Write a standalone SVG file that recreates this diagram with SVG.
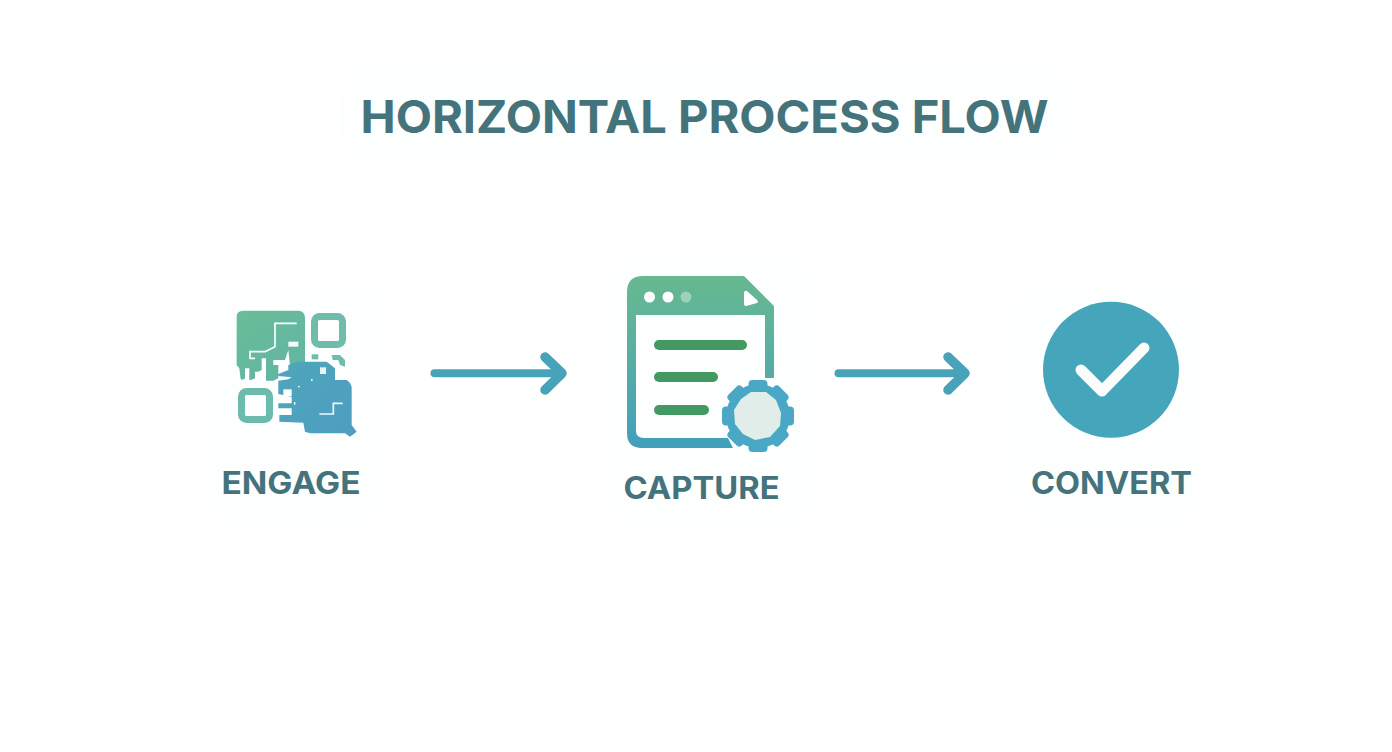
<svg xmlns="http://www.w3.org/2000/svg" width="1392" height="752" viewBox="0 0 1392 752">
<style>
text{font-family:"Inter","Liberation Sans",sans-serif;font-weight:700;fill:#44737c;text-anchor:middle}
.lbl{font-size:31px}
.conn{fill:none;stroke:#48a2ba;stroke-linecap:round;stroke-linejoin:round}
.bar{fill:#429a62}
.dot{fill:#fff}
.halo{fill:#fdfefe}
.tooth{fill:#4aa8c6}
</style>
<defs>
<linearGradient id="g1" gradientUnits="userSpaceOnUse" x1="200" y1="200" x2="400" y2="400"><stop offset="0" stop-color="#4fa6ba"/><stop offset="1" stop-color="#4d9fc0"/></linearGradient>
<linearGradient id="g3" gradientUnits="userSpaceOnUse" x1="80" y1="62" x2="240" y2="270"><stop offset="0" stop-color="#69bd97"/><stop offset="1" stop-color="#62b5a2"/></linearGradient>
<linearGradient id="g2" gradientUnits="userSpaceOnUse" x1="0" y1="276" x2="0" y2="448"><stop offset="0" stop-color="#66b88f"/><stop offset=".3" stop-color="#5fb39b"/><stop offset="1" stop-color="#429fbd"/></linearGradient>
</defs>
<rect width="1392" height="752" fill="#fff"/>
<rect class="halo" x="340" y="60" width="730" height="110" rx="40"/>
<rect class="halo" x="200" y="280" width="190" height="245" rx="40"/>
<rect class="halo" x="605" y="250" width="210" height="285" rx="40"/>
<rect class="halo" x="1010" y="280" width="200" height="245" rx="40"/>
<text id="title" x="704.500" y="133" font-size="45.500" textLength="688" lengthAdjust="spacingAndGlyphs">HORIZONTAL PROCESS FLOW</text>
<g id="connectors">
<path class="conn" stroke-width="8" d="M434.500 373.300H560"/>
<path class="conn" stroke-width="9.500" d="M545 357L562 373.300L545 390"/>
<path class="conn" stroke-width="8" d="M838.500 373.300H962"/>
<path class="conn" stroke-width="9.500" d="M948 357L965 373.300L948 390"/>
</g>
<g id="engage">
<g transform="translate(210 290) scale(.33333)">
<path fill="url(#g3)" d="M100 62H265Q285 62 285 85V225H240L235 180L225 210H190V225H205V265L190 272H168V205H155V240L145 245H135V265L122 270H118V235H105V265Q100 272 92 268L88 235L80 225V80Q80 62 100 62Z"/>
<path fill="none" stroke="#fff" stroke-width="5" d="M260 100H195V170L165 185H120V205H135"/>
<rect x="235" y="155" width="30" height="15" fill="#f3faf7"/>
<path fill="url(#g1)" d="M235 225L265 215H325L350 215L375 235V270H410Q425 280 425 295V405L440 425L420 440L405 430H300L285 425L280 398L208 395V375H245V355H205V340H245V320L205 312V272L235 268L245 262L205 258V252L235 240Z"/>
<rect x="220" y="298" width="25" height="20" fill="#fff"/>
<rect x="330" y="232" width="18" height="20" fill="#e7f3f6"/>
<rect x="264" y="288" width="5" height="4" fill="#fff"/>
<rect x="303" y="267" width="5" height="5" fill="#fff"/>
<rect x="252" y="336" width="4" height="8" fill="#fff"/>
<path fill="none" stroke="#f2f8fa" stroke-width="5" d="M328 372H370V340H398"/>
<rect x="305" y="193" width="20" height="15" fill="#70bbab"/>
<path fill="#70bbab" d="M365 195H390L405 210V230L390 225L385 210H368Z"/>
</g>
<rect x="314.500" y="316.500" width="28" height="28" rx="5" fill="#fff" stroke="#6fbbac" stroke-width="7"/>
<rect x="241.500" y="391.500" width="28" height="28" rx="5" fill="#fff" stroke="#6cbbac" stroke-width="7"/>
<text class="lbl" x="291" y="494" textLength="139" lengthAdjust="spacingAndGlyphs">ENGAGE</text>
</g>
<g id="capture">
<path fill="url(#g2)" d="M643 276H744L774 306V378H765V315H636V431Q636 438 644 438H728L733 448H642Q627 448 627 433V292Q627 276 643 276Z"/>
<circle class="dot" cx="649.500" cy="297" r="5.500"/><circle class="dot" cx="668" cy="297" r="5.500"/><circle cx="686" cy="297" r="5.500" fill="#9bd2ba"/>
<path fill="#fff" d="M744 293Q744 290 747 291L757 300Q759 302 757 303L746 306Q744 306 744 304Z"/>
<rect class="bar" x="654" y="340" width="93" height="10" rx="5"/>
<rect class="bar" x="654" y="372" width="64" height="10" rx="5"/>
<rect class="bar" x="654" y="405" width="55" height="10" rx="5"/>
<g transform="translate(758 416)">
<circle r="32" class="tooth"/>
<rect class="tooth" x="-9.500" y="-36" width="19" height="12" rx="4"/><rect class="tooth" x="-9.500" y="-36" width="19" height="12" rx="4" transform="rotate(45)"/><rect class="tooth" x="-9.500" y="-36" width="19" height="12" rx="4" transform="rotate(90)"/><rect class="tooth" x="-9.500" y="-36" width="19" height="12" rx="4" transform="rotate(135)"/><rect class="tooth" x="-9.500" y="-36" width="19" height="12" rx="4" transform="rotate(180)"/><rect class="tooth" x="-9.500" y="-36" width="19" height="12" rx="4" transform="rotate(225)"/><rect class="tooth" x="-9.500" y="-36" width="19" height="12" rx="4" transform="rotate(270)"/><rect class="tooth" x="-9.500" y="-36" width="19" height="12" rx="4" transform="rotate(315)"/>
<path fill="#e1ede8" d="M-7-24L8-24L18-16L23-3L22 10L12 21L-3 24L-15 18L-23 8L-24-6L-17-17Z"/>
</g>
<text class="lbl" x="701.500" y="499" textLength="156" lengthAdjust="spacingAndGlyphs">CAPTURE</text>
</g>
<g id="convert">
<circle cx="1111" cy="369.700" r="68" fill="#45a5ba"/>
<path fill="none" stroke="#fbfdfd" stroke-width="11" stroke-linecap="round" stroke-linejoin="round" d="M1081 370L1102 391L1144 348"/>
<text class="lbl" x="1111.500" y="494" textLength="161" lengthAdjust="spacingAndGlyphs">CONVERT</text>
</g>
</svg>
